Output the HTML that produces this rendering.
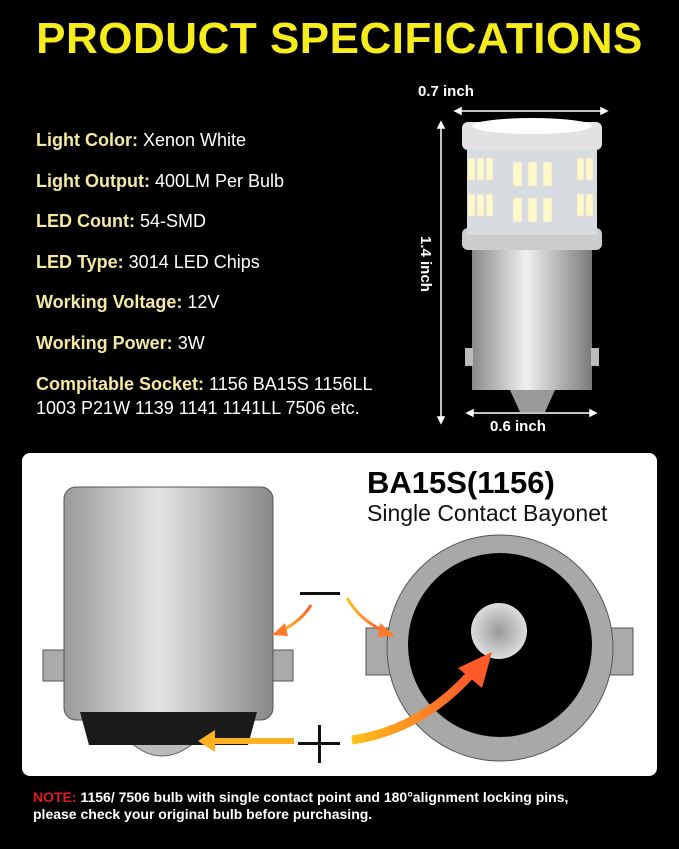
<!DOCTYPE html>
<html><head><meta charset="utf-8"><style>
html,body{margin:0;padding:0;background:#000;}
body{width:679px;height:849px;position:relative;overflow:hidden;font-family:"Liberation Sans",sans-serif;}
.t{position:absolute;color:#fff;white-space:nowrap;}
h1{position:absolute;left:0;top:14px;width:679px;margin:0;text-align:center;color:#f6ec1c;font:900 44px "Liberation Sans",sans-serif;letter-spacing:0.5px;transform:scaleX(1.0);}
.s{position:absolute;left:36px;color:#fff;font-size:18px;white-space:nowrap;}
.s b{color:#f5e9a0;}
</style></head><body>
<h1>PRODUCT SPECIFICATIONS</h1>
<div class="s" style="top:130px"><b>Light Color:</b> Xenon White</div>
<div class="s" style="top:171px"><b>Light Output:</b> 400LM Per Bulb</div>
<div class="s" style="top:211px"><b>LED Count:</b> 54-SMD</div>
<div class="s" style="top:252px"><b>LED Type:</b> 3014 LED Chips</div>
<div class="s" style="top:292px"><b>Working Voltage:</b> 12V</div>
<div class="s" style="top:333px"><b>Working Power:</b> 3W</div>
<div class="s" style="top:374px"><b>Compitable Socket:</b> 1156 BA15S 1156LL</div>
<div class="s" style="top:398px">1003 P21W 1139 1141 1141LL 7506 etc.</div>

<svg style="position:absolute;left:0;top:0" width="679" height="849">
<defs>
<linearGradient id="sil" x1="0" x2="1"><stop offset="0" stop-color="#8a8a8a"/><stop offset="0.45" stop-color="#f0f0f0"/><stop offset="1" stop-color="#7a7a7a"/></linearGradient>
<linearGradient id="sil2" x1="0" x2="1"><stop offset="0" stop-color="#999"/><stop offset="0.45" stop-color="#e4e4e4"/><stop offset="1" stop-color="#888"/></linearGradient>
<linearGradient id="arr" x1="0" x2="1"><stop offset="0" stop-color="#ffc21a"/><stop offset="1" stop-color="#ff5a2a"/></linearGradient>
<radialGradient id="dot"><stop offset="0" stop-color="#999"/><stop offset="1" stop-color="#ddd"/></radialGradient>
</defs>
<g stroke="#fff" stroke-width="1.5" fill="#fff">
<line x1="457" y1="111" x2="605" y2="111"/><polygon points="455,111 461,108 461,114"/><polygon points="607,111 601,108 601,114"/>
<line x1="441" y1="125" x2="441" y2="420"/><polygon points="441,122 438,128 444,128"/><polygon points="441,423 438,417 444,417"/>
<line x1="469" y1="413" x2="594" y2="413"/><polygon points="467,413 473,410 473,416"/><polygon points="596,413 590,410 590,416"/>
</g>
<rect x="472" y="240" width="120" height="150" fill="url(#sil)"/>
<rect x="465" y="348" width="8" height="18" fill="#bbb"/><rect x="591" y="348" width="8" height="18" fill="#bbb"/>
<path d="M510 390 L555 390 L545 412 L520 412 Z" fill="#999"/>
<rect x="462" y="228" width="140" height="22" rx="6" fill="#ccc"/>
<rect x="467" y="150" width="130" height="85" fill="#d8dbe0"/>
<rect x="462" y="122" width="140" height="28" rx="6" fill="#e2e2e2"/>
<ellipse cx="532" cy="126" rx="60" ry="8" fill="#fff"/>
<g fill="#fff8c8" stroke="#ddd" stroke-width="0.6">
<rect x="513" y="162" width="9" height="24"/><rect x="528" y="162" width="9" height="24"/><rect x="543" y="162" width="9" height="24"/>
<rect x="513" y="198" width="9" height="24"/><rect x="528" y="198" width="9" height="24"/><rect x="543" y="198" width="9" height="24"/>
<rect x="468" y="158" width="7" height="22"/><rect x="477" y="158" width="7" height="22"/><rect x="486" y="158" width="7" height="22"/>
<rect x="468" y="194" width="7" height="22"/><rect x="477" y="194" width="7" height="22"/><rect x="486" y="194" width="7" height="22"/>
<rect x="577" y="158" width="7" height="22"/><rect x="586" y="158" width="7" height="22"/>
<rect x="577" y="194" width="7" height="22"/><rect x="586" y="194" width="7" height="22"/>
</g>
<rect x="22" y="453" width="635" height="323" rx="8" fill="#fff"/>
<rect x="43" y="650" width="22" height="31" fill="#aaa" stroke="#555"/>
<rect x="271" y="650" width="22" height="31" fill="#aaa" stroke="#555"/>
<rect x="64" y="487" width="209" height="233" rx="12" fill="url(#sil2)" stroke="#555"/>
<path d="M130 742 Q162 770 195 742 Z" fill="#bbb" stroke="#666"/>
<path d="M80 712 L257 712 L248 745 L89 745 Z" fill="#1a1a1a"/>
<rect x="366" y="628" width="25" height="47" fill="#aaa" stroke="#555"/>
<rect x="608" y="628" width="25" height="47" fill="#aaa" stroke="#555"/>
<circle cx="500" cy="648" r="113" fill="#a8a8a8" stroke="#555"/>
<circle cx="500" cy="645" r="92" fill="#000"/>
<circle cx="499" cy="631" r="28" fill="url(#dot)"/>
<rect x="300" y="592" width="40" height="3" fill="#111"/>
<rect x="298" y="742" width="42" height="3" fill="#111"/>
<rect x="318" y="725" width="3" height="38" fill="#111"/>
<path d="M311 605 Q302 620 283 630" stroke="url(#arr)" stroke-width="3" fill="none"/><polygon points="272,635 285,623 288,636" fill="#ff7a2a"/>
<path d="M347 598 Q360 620 382 630" stroke="url(#arr)" stroke-width="3" fill="none"/><polygon points="395,636 380,623 378,637" fill="#ff7a2a"/>
<path d="M294 741 L215 741" stroke="#ffb020" stroke-width="6" fill="none"/><polygon points="198,741 215,730 215,752" fill="#ffb020"/>
<path d="M352 740 Q420 730 470 675" stroke="url(#arr)" stroke-width="9" fill="none"/><polygon points="492,652 458,668 482,688" fill="#ff5a2a"/>
</svg>
<div class="t" style="left:418px;top:83px;font-size:15px;font-weight:bold">0.7 inch</div>
<div class="t" style="left:490px;top:418px;font-size:15px;font-weight:bold">0.6 inch</div>
<div class="t" style="font-size:15px;font-weight:bold;transform:rotate(90deg);transform-origin:0 0;left:434px;top:236px">1.4 inch</div>
<div class="t" style="left:367px;top:465px;color:#000;font-size:31px;font-weight:bold">BA15S(1156)</div>
<div class="t" style="left:367px;top:500px;color:#111;font-size:23px">Single Contact Bayonet</div>
<div class="t" style="left:33px;top:789px;font-size:14px;font-weight:bold;line-height:17px"><span style="color:#e21b1b">NOTE:</span> 1156/ 7506 bulb with single contact point and 180°alignment locking pins,<br>please check your original bulb before purchasing.</div>
</body></html>
